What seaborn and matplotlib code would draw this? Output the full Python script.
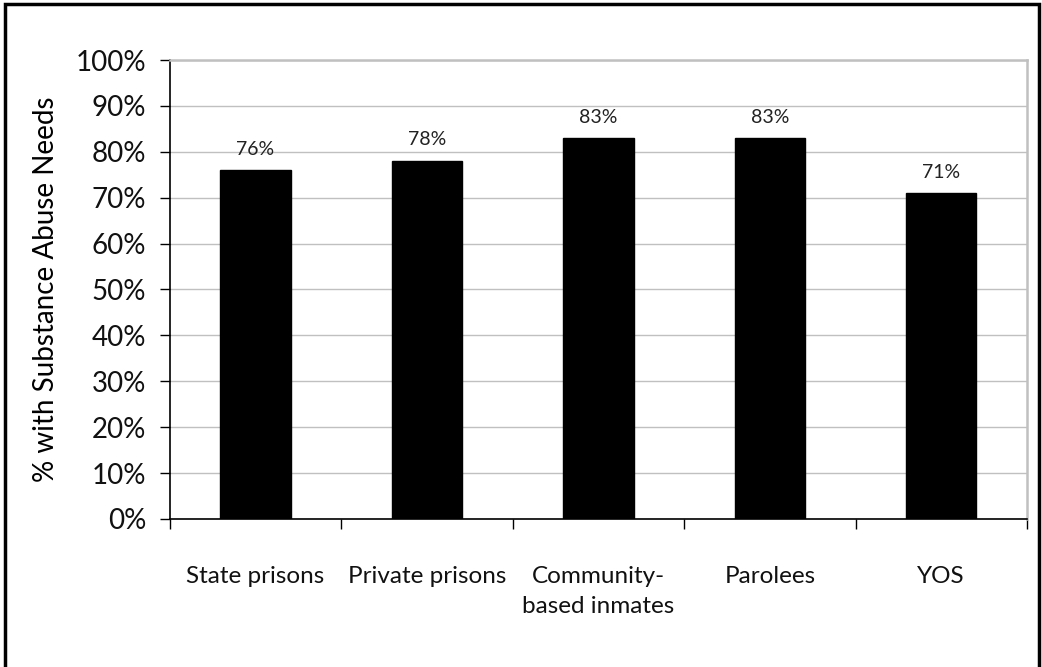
import matplotlib
matplotlib.use("Agg")
import matplotlib.pyplot as plt
from matplotlib.patches import Rectangle
from matplotlib.ticker import FixedLocator, FuncFormatter
import seaborn as sns

# Share of each population with substance abuse needs (%)
groups = ["State prisons", "Private prisons", "Community-\nbased inmates", "Parolees", "YOS"]
pct_values = [76, 78, 83, 83, 71]
y_ticks = list(range(0, 101, 10))
y_title = "% with Substance Abuse Needs"

sns.set_theme(style="white")
plt.rcParams["font.family"] = ["Lato", "DejaVu Sans"]

fig = plt.figure(figsize=(10.42, 6.67), dpi=100)
ax = fig.add_axes([0.163, 0.222, 0.8226, 0.688])

sns.barplot(x=groups, y=pct_values, color="black", width=0.41,
            edgecolor="black", linewidth=1, saturation=1, ax=ax)

ax.set_ylim(0, 100)
ax.set_xlim(-0.5, len(groups) - 0.5)

# horizontal gridlines
ax.yaxis.set_major_locator(FixedLocator(y_ticks))
ax.yaxis.set_major_formatter(FuncFormatter(lambda v, _: f"{int(v)}%"))
ax.grid(axis="y", color="#c0c0c0", linewidth=1)
ax.set_axisbelow(True)

# category boundaries carry the tick marks, centres carry the labels
ax.set_xticks([i - 0.5 for i in range(len(groups) + 1)])
ax.set_xticklabels([])
ax.set_xticks(range(len(groups)), minor=True)
ax.set_xticklabels(groups, minor=True, fontsize=17.5, color="#111111",
                   linespacing=1.5, va="top")
ax.tick_params(axis="x", which="major", direction="out", length=7,
               width=1, color="black", bottom=True)
ax.tick_params(axis="x", which="minor", length=0, pad=34, bottom=True)
ax.tick_params(axis="y", direction="out", length=7, width=1,
               color="black", left=True, labelsize=20, pad=10,
               labelcolor="#111111")

ax.set_xlabel("")
ax.set_ylabel(y_title, fontsize=20, color="black", labelpad=12)

for side in ("left", "bottom"):
    ax.spines[side].set_color("black")
    ax.spines[side].set_linewidth(1.2)
for side in ("top", "right"):
    ax.spines[side].set_color("#c0c0c0")
    ax.spines[side].set_linewidth(1.8)

ax.bar_label(ax.containers[0], labels=[f"{v}%" for v in pct_values],
             padding=9, fontsize=14, color="#222222")

# frame around the whole figure
fig.patches.append(Rectangle((0.0045, -0.1), 0.9925, 1.0935,
                             transform=fig.transFigure, fill=False,
                             edgecolor="black", linewidth=2.5, zorder=10))

fig.savefig("out.png", dpi=100)
